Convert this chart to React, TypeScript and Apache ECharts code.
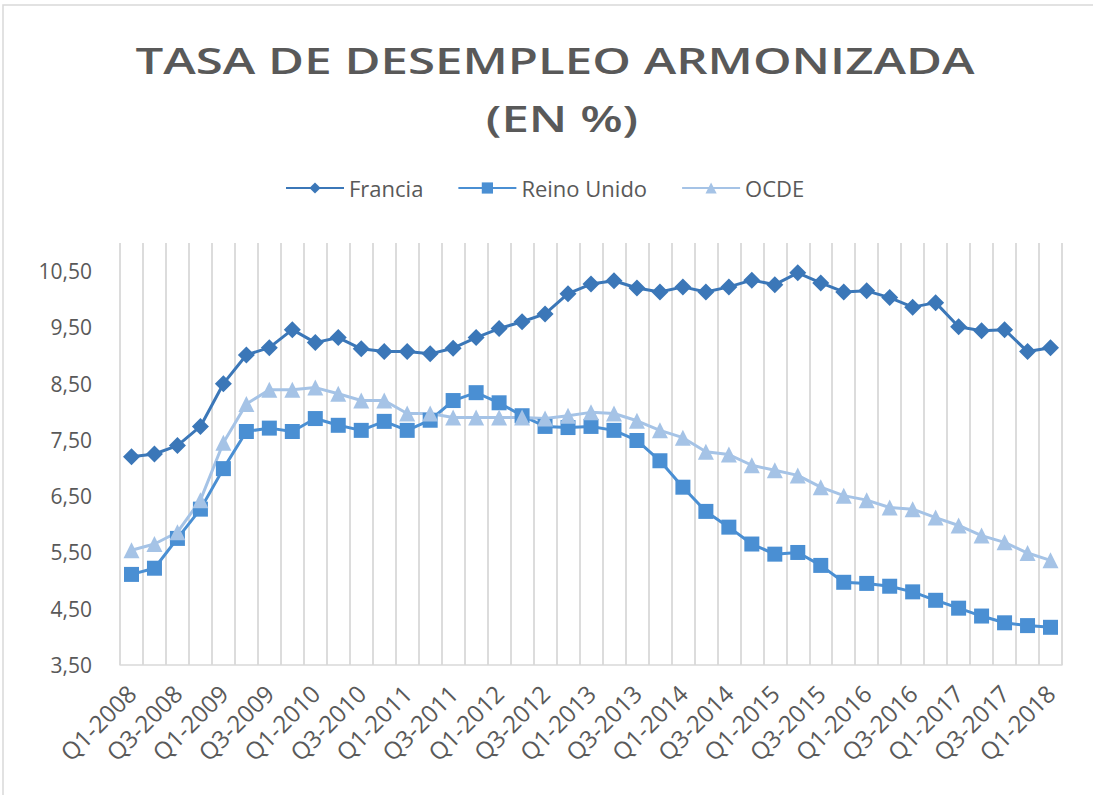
import React, { useEffect, useRef } from "react";
import * as echarts from "echarts";

const quarters: string[] = [];
for (let y = 2008; y <= 2018; y++) {
  for (let q = 1; q <= 4; q++) {
    if (y === 2018 && q > 1) break;
    quarters.push(`Q${q}-${y}`);
  }
}

const francia = [
  7.2, 7.25, 7.4, 7.74, 8.5, 9.01, 9.14, 9.46, 9.23, 9.32, 9.12, 9.07, 9.07, 9.03,
  9.13, 9.32, 9.48, 9.6, 9.74, 10.1, 10.27, 10.33, 10.2, 10.13, 10.22, 10.13, 10.22,
  10.34, 10.26, 10.47, 10.29, 10.13, 10.15, 10.03, 9.86, 9.94, 9.51, 9.44, 9.46,
  9.07, 9.14,
];

const reinoUnido = [
  5.11, 5.22, 5.75, 6.27, 6.99, 7.65, 7.71, 7.65, 7.88, 7.76, 7.67, 7.83, 7.67, 7.85,
  8.2, 8.34, 8.16, 7.93, 7.74, 7.72, 7.74, 7.67, 7.49, 7.13, 6.66, 6.23, 5.95, 5.65,
  5.47, 5.5, 5.27, 4.97, 4.95, 4.9, 4.8, 4.65, 4.51, 4.37, 4.25, 4.2, 4.17,
];

const ocde = [
  5.54, 5.65, 5.86, 6.43, 7.45, 8.14, 8.39, 8.39, 8.43, 8.32, 8.2, 8.2, 7.97, 7.97,
  7.9, 7.9, 7.9, 7.9, 7.88, 7.93, 7.99, 7.97, 7.84, 7.67, 7.54, 7.29, 7.24, 7.05,
  6.96, 6.87, 6.66, 6.51, 6.43, 6.3, 6.27, 6.12, 5.98, 5.8, 5.68, 5.49, 5.36,
];

const seriesNames = ["Francia", "Reino Unido", "OCDE"];
const titleLine1 = "TASA DE DESEMPLEO ARMONIZADA";
const titleLine2 = "(EN %)";

const Y_MIN = 3.5;
const Y_MAX = 11;

export default function App() {
  const ref = useRef<HTMLDivElement>(null);
  useEffect(() => {
    if (!ref.current) return;
    const chart = echarts.init(ref.current, null, { renderer: "svg" });
    const font = "'Open Sans', 'Liberation Sans', sans-serif";
    const grey = "#595959";
    chart.setOption({
      animation: false,
      backgroundColor: "#ffffff",
      graphic: [
        {
          type: "rect",
          shape: { x: 3, y: 5, width: 1110, height: 810 },
          style: { fill: "none", stroke: "#d9d9d9", lineWidth: 1.5 },
          silent: true,
        },
        {
          type: "text",
          x: 555,
          y: 60,
          scaleX: 1.33,
          style: {
            text: titleLine1,
            font: `600 37px ${font}`,
            fill: grey,
            textAlign: "center",
            textVerticalAlign: "middle",
          },
        },
        {
          type: "text",
          x: 562,
          y: 118,
          scaleX: 1.33,
          style: {
            text: titleLine2,
            font: `600 37px ${font}`,
            fill: grey,
            textAlign: "center",
            textVerticalAlign: "middle",
          },
        },
      ],
      legend: {
        data: seriesNames,
        left: 280,
        top: 172,
        itemWidth: 58,
        itemHeight: 14,
        itemGap: 34,
        textStyle: { fontFamily: font, fontSize: 22, color: grey },
      },
      grid: { left: 120, right: 31, top: 243, bottom: 130, containLabel: false },
      xAxis: {
        type: "category",
        data: quarters,
        boundaryGap: true,
        axisLine: { show: true, lineStyle: { color: "#d9d9d9", width: 1.5 } },
        axisTick: { show: false },
        splitLine: {
          show: true,
          interval: 0,
          lineStyle: { color: "#dcdcdc", width: 2 },
        },
        axisLabel: {
          interval: 1,
          rotate: 45,
          margin: 24,
          fontFamily: font,
          fontSize: 24,
          color: grey,
        },
      },
      yAxis: {
        type: "value",
        min: Y_MIN,
        max: Y_MAX,
        interval: 1,
        axisLine: { show: false },
        axisTick: { show: false },
        splitLine: { show: false },
        axisLabel: {
          margin: 28,
          fontFamily: font,
          fontSize: 21,
          color: grey,
          formatter: (v: number) => {
            const k = v - Y_MIN;
            if (Math.abs(k - Math.round(k)) > 1e-6) return "";
            return v.toFixed(2).replace(".", ",");
          },
        },
      },
      series: [
        {
          name: seriesNames[0],
          type: "line",
          data: francia,
          symbol: "diamond",
          symbolSize: 17,
          showAllSymbol: true,
          itemStyle: { color: "#3b77b8" },
          lineStyle: { color: "#3b77b8", width: 3 },
        },
        {
          name: seriesNames[1],
          type: "line",
          data: reinoUnido,
          symbol: "rect",
          symbolSize: 15,
          showAllSymbol: true,
          itemStyle: { color: "#4a8fd3" },
          lineStyle: { color: "#4a8fd3", width: 3 },
        },
        {
          name: seriesNames[2],
          type: "line",
          data: ocde,
          symbol: "triangle",
          symbolSize: 16,
          showAllSymbol: true,
          itemStyle: { color: "#a5c3e6" },
          lineStyle: { color: "#a5c3e6", width: 3 },
        },
      ],
    });
    return () => chart.dispose();
  }, []);
  return (
    <div
      ref={ref}
      style={{ position: "absolute", left: 0, top: 0, width: 1093, height: 795 }}
    />
  );
}
